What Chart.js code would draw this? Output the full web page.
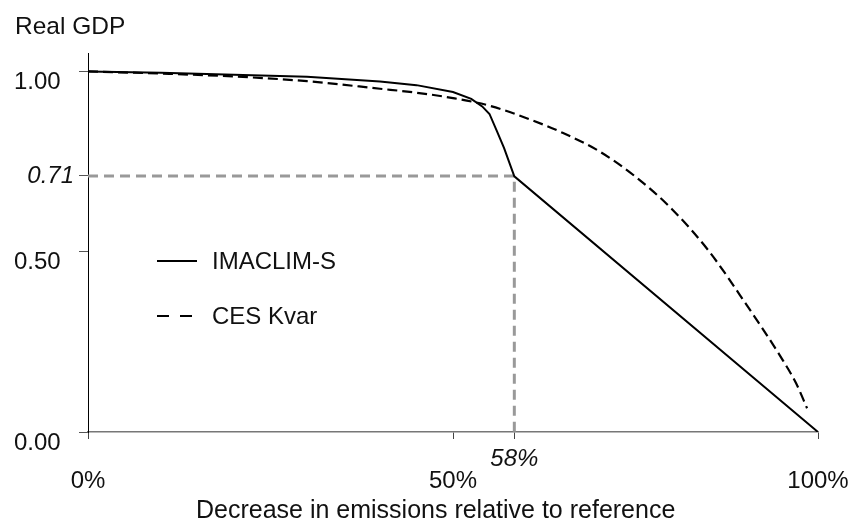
<!DOCTYPE html>
<html>
<head>
<meta charset="utf-8">
<script src="https://cdn.jsdelivr.net/npm/chart.js@4/dist/chart.umd.min.js"></script>
<style>
  html, body { margin: 0; padding: 0; background: #fff; }
  #wrap { width: 848px; height: 525px; }
</style>
</head>
<body>
<div id="wrap"><canvas id="gdpChart" width="848" height="525"></canvas></div>
<script>
// Decrease in emissions (%) and real GDP
const imaclimX = [0, 10, 20, 30, 40, 45, 50, 52.5, 54, 55, 56, 57, 58.4, 100];
const imaclimY = [1.000, 0.996, 0.991, 0.985, 0.972, 0.962, 0.943, 0.924, 0.903, 0.882, 0.835, 0.787, 0.709, 0];

const cesX = [0, 10, 20, 30, 40, 45, 50, 55, 60, 65, 70, 75, 80, 85, 90, 95, 97, 98.5];
const cesY = [1.000, 0.994, 0.986, 0.973, 0.952, 0.941, 0.926, 0.905, 0.871, 0.830, 0.779, 0.708, 0.618, 0.503, 0.359, 0.205, 0.135, 0.066];

// guide lines to the kink of IMACLIM-S
const guideX = [0, 58.4, 58.4];
const guideY = [0.71, 0.71, 0];

const seriesNames = ['IMACLIM-S', 'CES Kvar'];

const xTickValues = [0, 50, 58.4, 100];
const xTickLabels = ['0%', '50%', '58%', '100%'];
const yTickValues = [0, 0.5, 0.71, 1];
const yTickLabels = ['0.00', '0.50', '0.71', '1.00'];
const highlightX = 58.4;
const highlightY = 0.71;

const FONT = '"Liberation Sans", Arial, sans-serif';

function toPoints(xs, ys) {
    return xs.map(function(x, i){ return {x: x, y: ys[i]}; });
}

//Legend drawn inside the plot, left side
const inPlotLegend = {
    id: 'inPlotLegend',
    afterDraw(chart) {
        const ctx = chart.ctx;
        const left = chart.chartArea.left;
        const rows = [261, 316];
        ctx.save();
        ctx.font = '24px ' + FONT;
        ctx.textBaseline = 'middle';
        ctx.fillStyle = '#111';
        for (let i = 0; i < 2; i++) {
            const ds = chart.data.datasets[i];
            ctx.strokeStyle = ds.borderColor;
            ctx.lineWidth = 2;
            ctx.setLineDash(i === 0 ? [] : [12, 11]);
            ctx.beginPath();
            ctx.moveTo(left + 69, rows[i]);
            ctx.lineTo(left + 109, rows[i]);
            ctx.stroke();
            ctx.fillText(ds.label, left + 124, rows[i] + 1);
        }
        ctx.restore();
    }
};

const config = {
    type: 'line',
    data: {
        datasets: [{
            label: seriesNames[0],
            data: toPoints(imaclimX, imaclimY),
            borderColor: '#000',
            borderWidth: 2,
            pointRadius: 0,
            tension: 0
        }, {
            label: seriesNames[1],
            data: toPoints(cesX, cesY),
            borderColor: '#000',
            borderWidth: 2.2,
            borderDash: [10, 5],
            pointRadius: 0,
            cubicInterpolationMode: 'monotone'
        }, {
            label: 'guide',
            data: toPoints(guideX, guideY),
            borderColor: '#999',
            borderWidth: 3,
            borderDash: [10, 6],
            pointRadius: 0,
            tension: 0
        }]
    },
    options: {
        responsive: false,
        animation: false,
        events: [],
        layout: { padding: { left: 15, right: 30, top: 0, bottom: 0 } },
        plugins: {
            legend: { display: false },
            tooltip: { enabled: false },
            title: {
                display: true,
                text: 'Real GDP',
                align: 'start',
                color: '#111',
                font: { family: FONT, size: 24.5, weight: 'normal', lineHeight: 1.2 },
                padding: { top: 13, bottom: 11 }
            }
        },
        scales: {
            x: {
                type: 'linear',
                min: 0,
                max: 100,
                afterBuildTicks: function(scale){
                    scale.ticks = xTickValues.map(function(v){ return {value: v}; });
                },
                afterFit: function(scale){
                    scale.height = 93;
                    scale.paddingLeft = 0;
                    scale.paddingRight = 0;
                },
                border: { display: true, color: '#777', width: 1.5 },
                grid: {
                    drawOnChartArea: false,
                    drawTicks: true,
                    tickLength: 7,
                    tickColor: '#444',
                    tickWidth: 1
                },
                ticks: {
                    autoSkip: false,
                    maxRotation: 0,
                    padding: 9,
                    color: '#111',
                    font: function(ctx){
                        const it = ctx.tick && ctx.tick.value === highlightX;
                        return { family: FONT, size: 24, style: it ? 'italic' : 'normal', lineHeight: '22px' };
                    },
                    callback: function(value){
                        const i = xTickValues.indexOf(value);
                        if (value === highlightX) return [xTickLabels[i]];
                        return ['', xTickLabels[i]];
                    }
                },
                title: {
                    display: true,
                    // trailing spaces nudge the centred title a little to the left
                    text: 'Decrease in emissions relative to reference     ',
                    color: '#111',
                    font: { family: FONT, size: 25, lineHeight: 1.1 },
                    padding: { top: 0, bottom: 0 }
                }
            },
            y: {
                type: 'linear',
                min: 0,
                max: 1.05,
                afterBuildTicks: function(scale){
                    scale.ticks = yTickValues.map(function(v){ return {value: v}; });
                },
                afterFit: function(scale){
                    scale.width = 73;
                    scale.paddingTop = 0;
                    scale.paddingBottom = 0;
                },
                border: { display: true, color: '#000', width: 1 },
                grid: {
                    drawOnChartArea: false,
                    drawTicks: true,
                    tickLength: 9,
                    tickColor: '#555',
                    tickWidth: 1
                },
                ticks: {
                    padding: 5,
                    color: '#111',
                    font: function(ctx){
                        const it = ctx.tick && ctx.tick.value === highlightY;
                        return { family: FONT, size: 24, style: it ? 'italic' : 'normal', lineHeight: '22px' };
                    },
                    callback: function(value){
                        const i = yTickValues.indexOf(value);
                        if (value === highlightY) return [yTickLabels[i]];
                        return ['', yTickLabels[i] + '  '];
                    }
                }
            }
        }
    },
    plugins: [inPlotLegend]
};

const gdpChart = new Chart(document.getElementById('gdpChart'), config);
</script>
</body>
</html>
